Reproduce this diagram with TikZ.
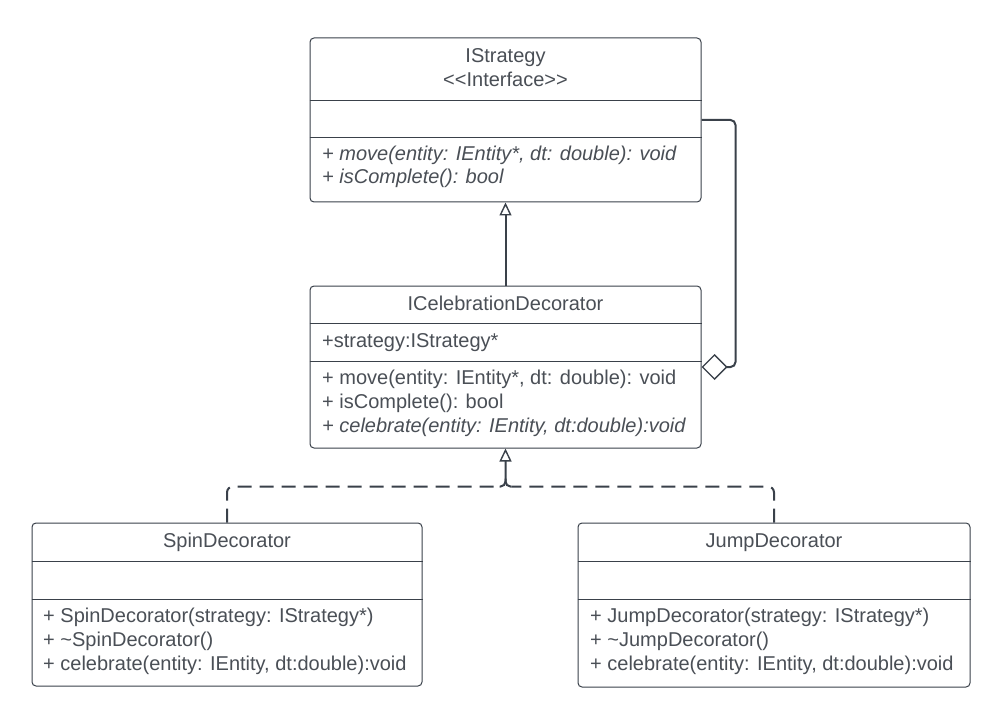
\documentclass[tikz,border=0pt]{standalone}
\usepackage{fontspec}
\setmainfont{Liberation Sans}
\usetikzlibrary{arrows.meta,positioning,calc}
\definecolor{umlline}{RGB}{58,65,74}
\definecolor{umltext}{RGB}{74,79,86}

\begin{document}
\begin{tikzpicture}[x=1pt,y=-1pt,
        classbox/.style={draw=umlline, line width=1pt, rounded corners=4pt, fill=white},
        classname/.style={anchor=base, text=umltext, inner sep=0pt, font=\fontsize{20}{24}\selectfont},
        member/.style={anchor=base west, text=umltext, inner sep=0pt, font=\fontsize{20}{24}\selectfont},
        divider/.style={draw=umlline, line width=1pt},
        conn/.style={draw=umlline, line width=2pt},
        inherit/.style={conn, -{Triangle[open, length=13pt, width=12pt, line width=1.4pt]}},
        realize/.style={conn, dash pattern=on 14pt off 8pt, rounded corners=6pt},
        aggr/.style={conn, rounded corners=5pt, -{Diamond[open, length=26pt, width=26pt, line width=1.4pt]}}]
        \fill[white] (0,0) rectangle (1003,711);
        \useasboundingbox (0,0) rectangle (1003,711);
        % Interface
        \node[classbox, minimum width=391pt, minimum height=164pt] (strategy) at (505.5,120) {};
        \draw[divider] (strategy.west |- 0,101) -- (strategy.east |- 0,101);
        \draw[divider] (strategy.west |- 0,138) -- (strategy.east |- 0,138);
        \node[classname] (strategyname) at (505.5,63) {IStrategy};
        \node[classname] (strategystereo) at (505.5,87) {<{}<Interface>{}>};
        \node[member, font=\fontsize{20}{24}\selectfont\itshape] (strategymove) at (322,161) {+ move(entity: IEntity*, dt: double): void};
        \node[member, font=\fontsize{20}{24}\selectfont\itshape] (strategydone) at (322,184) {+ isComplete(): bool};
        % Decorator base
        \node[classbox, minimum width=391pt, minimum height=162pt] (decorator) at (505.5,367) {};
        \draw[divider] (decorator.west |- 0,323) -- (decorator.east |- 0,323);
        \draw[divider] (decorator.west |- 0,361) -- (decorator.east |- 0,361);
        \node[classname] (decoratorname) at (505.5,310) {ICelebrationDecorator};
        \node[member] (decoratorattr) at (322,347) {+strategy:IStrategy*};
        \node[member] (decoratormove) at (322,384) {+ move(entity: IEntity*, dt: double): void};
        \node[member] (decoratordone) at (322,408) {+ isComplete(): bool};
        \node[member, font=\fontsize{20}{24}\selectfont\itshape] (decoratorcel) at (322,432) {+ celebrate(entity: IEntity, dt:double):void};
        % Concrete decorators
        \node[classbox, minimum width=390pt, minimum height=163pt] (spin) at (227,604.5) {};
        \draw[divider] (spin.west |- 0,561) -- (spin.east |- 0,561);
        \draw[divider] (spin.west |- 0,599) -- (spin.east |- 0,599);
        \node[classname] (spinname) at (227,547) {SpinDecorator};
        \node[member] (spinctor) at (43,622) {+ SpinDecorator(strategy: IStrategy*)};
        \node[member] (spindtor) at (43,646) {+ \textasciitilde SpinDecorator()};
        \node[member] (spincel) at (43,670) {+ celebrate(entity: IEntity, dt:double):void};
        \node[classbox, minimum width=392pt, minimum height=164pt] (jump) at (774,605) {};
        \draw[divider] (jump.west |- 0,561) -- (jump.east |- 0,561);
        \draw[divider] (jump.west |- 0,599) -- (jump.east |- 0,599);
        \node[classname] (jumpname) at (774,547) {JumpDecorator};
        \node[member] (jumpctor) at (590,622) {+ JumpDecorator(strategy: IStrategy*)};
        \node[member] (jumpdtor) at (590,646) {+ \textasciitilde JumpDecorator()};
        \node[member] (jumpcel) at (590,670) {+ celebrate(entity: IEntity, dt:double):void};
        % Connectors
        \draw[inherit] (decorator.north) -- (strategy.south);
        \draw[aggr] (strategy.east) -- ++(34,0) |- (decorator.east);
        \coordinate (junct) at ($(decorator.south)+(0,38)$);
        \draw[realize] (spin.north) |- ($(junct)+(-6,0)$);
        \draw[realize] (jump.north) |- ($(junct)+(6,0)$);
        \draw[inherit, rounded corners=5pt] ($(junct)+(-6,0)$) -- (junct) -- (decorator.south);
        \draw[conn, rounded corners=5pt] ($(junct)+(6,0)$) -- (junct) -- ++(0,-8);
    \end{tikzpicture}
\end{document}
